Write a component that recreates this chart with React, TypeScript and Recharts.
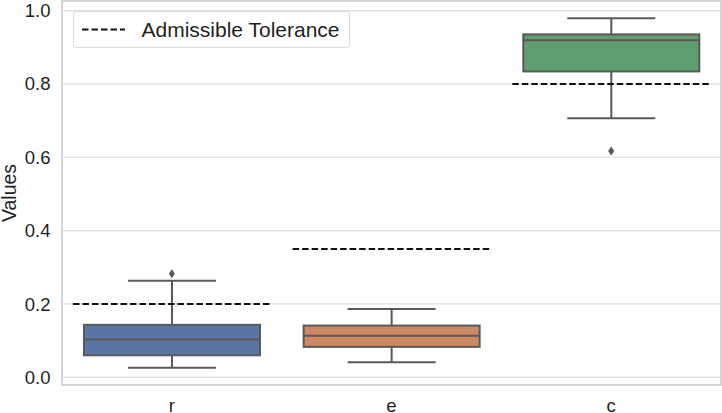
import React from 'react';
import {
  ComposedChart,
  Bar,
  Line,
  XAxis,
  YAxis,
  CartesianGrid,
  ReferenceArea,
} from 'recharts';

// values
const categories = ['r', 'e', 'c'];
const whiskerLow = [0.026, 0.041, 0.706];
const quartile1 = [0.06, 0.083, 0.834];
const medians = [0.103, 0.113, 0.919];
const quartile3 = [0.143, 0.141, 0.935];
const whiskerHigh = [0.263, 0.186, 0.979];
const outliers: (number | null)[] = [0.282, null, 0.617];
const tolerance = [0.2, 0.35, 0.8];
const yTicks = [0, 0.2, 0.4, 0.6, 0.8, 1.0];

const boxColors = ['#5875a4', '#cc8963', '#5f9e6e'];
const lineGray = '#595959';
const textColor = '#1f1f1f';
const font = '"Liberation Sans", Arial, sans-serif';

const data = categories.map((name, i) => ({
  name,
  lo: whiskerLow[i],
  q1: quartile1[i],
  med: medians[i],
  q3: quartile3[i],
  hi: whiskerHigh[i],
  outlier: outliers[i],
  tol: tolerance[i],
  color: boxColors[i],
}));

const BoxShape = (props: any) => {
  const { x, y, width, height, payload } = props;
  const top = Math.min(y, y + height);
  const bottom = Math.max(y, y + height);
  // map a value to pixels using the bar's own scaled extent (lo..hi)
  const px = (v: number) => bottom - ((v - payload.lo) / (payload.hi - payload.lo)) * (bottom - top);
  const cx = x + width / 2;
  const capHalf = width / 4;
  const tolHalf = (width * 1.125) / 2;
  const yq1 = px(payload.q1);
  const yq3 = px(payload.q3);
  return (
    <g>
      <line x1={cx} x2={cx} y1={px(payload.hi)} y2={yq3} stroke={lineGray} strokeWidth={2} />
      <line x1={cx} x2={cx} y1={yq1} y2={px(payload.lo)} stroke={lineGray} strokeWidth={2} />
      <line x1={cx - capHalf} x2={cx + capHalf} y1={px(payload.hi)} y2={px(payload.hi)} stroke={lineGray} strokeWidth={2} />
      <line x1={cx - capHalf} x2={cx + capHalf} y1={px(payload.lo)} y2={px(payload.lo)} stroke={lineGray} strokeWidth={2} />
      <rect x={x} y={yq3} width={width} height={yq1 - yq3} fill={payload.color} stroke={lineGray} strokeWidth={2} />
      <line x1={x} x2={x + width} y1={px(payload.med)} y2={px(payload.med)} stroke={lineGray} strokeWidth={2} />
      <line
        x1={cx - tolHalf}
        x2={cx + tolHalf}
        y1={px(payload.tol)}
        y2={px(payload.tol)}
        stroke="#111"
        strokeWidth={2}
        strokeDasharray="6.5 3"
      />
    </g>
  );
};

const Diamond = (props: any) => {
  const { cx, cy, payload, index } = props;
  if (payload == null || payload.outlier == null || cy == null || isNaN(cy)) return <g key={`o-${index}`} />;
  return (
    <path
      key={`o-${index}`}
      d={`M${cx},${cy - 4.5} L${cx + 3},${cy} L${cx},${cy + 4.5} L${cx - 3},${cy} Z`}
      fill={lineGray}
    />
  );
};

const YLabel = (props: any) => {
  const vb = props.viewBox || { x: 0, y: 1, height: 384 };
  const cy = vb.y + vb.height / 2;
  return (
    <text
      x={15.5}
      y={cy}
      transform={`rotate(-90, 15.5, ${cy})`}
      textAnchor="middle"
      fontSize={19.5}
      fontFamily={font}
      fill={textColor}
    >
      Values
    </text>
  );
};

const App: React.FC = () => {
  const yMin = -0.021;
  const yMax = 1.026;
  return (
    <div style={{ position: 'absolute', left: 0, top: 0, width: 722, height: 413, background: '#fff' }}>
      <ComposedChart
        width={722}
        height={413}
        data={data}
        margin={{ top: 1, right: 1, bottom: 0, left: 0 }}
        barCategoryGap="10%"
      >
        <CartesianGrid vertical={false} stroke="#dedede" strokeWidth={1.2} />
        <ReferenceArea y1={yMin} y2={yMax} fill="none" stroke="#d4d4d4" strokeWidth={2} ifOverflow="visible" />
        <XAxis
          dataKey="name"
          height={28}
          axisLine={false}
          tickLine={false}
          tickSize={0}
          tickMargin={13.5}
          tick={{ fontSize: 18.5, fill: textColor, fontFamily: font }}
        />
        <YAxis
          type="number"
          domain={[yMin, yMax]}
          ticks={yTicks}
          width={62}
          axisLine={false}
          tickLine={false}
          tickSize={0}
          tickMargin={11.5}
          tickFormatter={(v: number) => v.toFixed(1)}
          tick={{ fontSize: 18.5, fill: textColor, fontFamily: font }}
          label={<YLabel />}
          allowDataOverflow
        />
        <Bar dataKey={(d: any) => [d.lo, d.hi]} shape={<BoxShape />} isAnimationActive={false} />
        <Line
          dataKey="outlier"
          stroke="none"
          dot={<Diamond />}
          activeDot={false}
          isAnimationActive={false}
          connectNulls={false}
        />
      </ComposedChart>
      <div
        style={{
          position: 'absolute',
          left: 72.5,
          top: 11,
          width: 277,
          height: 37,
          boxSizing: 'border-box',
          border: '1px solid #d9d9d9',
          borderRadius: 3,
          background: 'rgba(255,255,255,0.8)',
          display: 'flex',
          alignItems: 'center',
          fontFamily: font,
          fontSize: 21,
          color: textColor,
        }}
      >
        <svg width={68} height={36} style={{ flex: 'none' }}>
          <line x1={8} x2={51} y1={17.5} y2={17.5} stroke="#111" strokeWidth={2} strokeDasharray="6.5 3" />
        </svg>
        <span style={{ whiteSpace: 'nowrap' }}>Admissible Tolerance</span>
      </div>
    </div>
  );
};

export default App;
